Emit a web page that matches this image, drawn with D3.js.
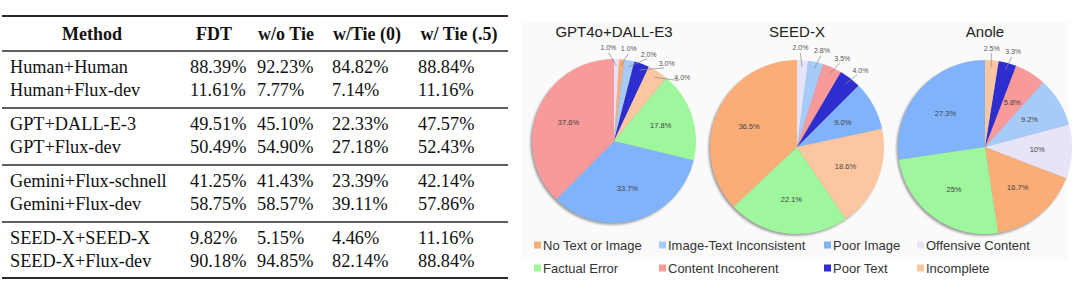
<!DOCTYPE html>
<html><head><meta charset="utf-8">
<script src="https://cdn.jsdelivr.net/npm/d3@7"></script>
<style>
html,body{margin:0;padding:0;background:#fff;}
svg{display:block;}
</style></head>
<body>
<svg id="chart" width="1080" height="305"></svg>
<script>
// ---------- Table data ----------
const tableHeaders = ["Method", "FDT", "w/o Tie", "w/Tie (0)", "w/ Tie (.5)"];
const methods = ["Human+Human", "Human+Flux-dev", "GPT+DALL-E-3", "GPT+Flux-dev",
  "Gemini+Flux-schnell", "Gemini+Flux-dev", "SEED-X+SEED-X", "SEED-X+Flux-dev"];
const fdt   = [88.39, 11.61, 49.51, 50.49, 41.25, 58.75, 9.82, 90.18];
const woTie = [92.23, 7.77, 45.10, 54.90, 41.43, 58.57, 5.15, 94.85];
const wTie0 = [84.82, 7.14, 22.33, 27.18, 23.39, 39.11, 4.46, 82.14];
const wTie5 = [88.84, 11.16, 47.57, 52.43, 42.14, 57.86, 11.16, 88.84];

// ---------- Pie data ----------
const errorTypes = ["No Text or Image", "Image-Text Inconsistent", "Poor Image", "Offensive Content",
  "Factual Error", "Content Incoherent", "Poor Text", "Incomplete"];
const pieTitles = ["GPT4o+DALL-E3", "SEED-X", "Anole"];
const gptShares   = [1.0, 2.0, 33.7, 1.0, 17.8, 37.6, 3.0, 4.0];
const seedShares  = [36.5, 2.8, 9.0, 2.0, 22.1, 3.5, 4.0, 18.6];
const anoleShares = [16.7, 9.2, 27.3, 10, 25, 5.8, 3.3, 2.5];
const labelFormats = [".1f", ".1f", ".1~f"];

// ---------- Styles ----------
const colors = ["#fbad77", "#a6cbf9", "#80b3fb", "#e7e4fa", "#9ef79c", "#f99a9a", "#2e2ed0", "#fbc6a0"];

const svg = d3.select("#chart");

// ================= TABLE =================
const serif = "'Liberation Serif','Times New Roman',serif";
const colX = [10, 190, 257, 332, 418];
const headerCX = [92, 214, 286, 367, 459];
const tableLeft = 2, tableRight = 508;
const topRule = 16, headRule = 51, groupH = 57;
const tg = svg.append("g");

const rules = [topRule, headRule, headRule + groupH, headRule + 2 * groupH, headRule + 3 * groupH, headRule + 4 * groupH - 1];
tg.selectAll("line.rule").data(rules).join("line")
  .attr("x1", tableLeft).attr("x2", tableRight)
  .attr("y1", d => d).attr("y2", d => d)
  .attr("stroke", "#2a2a2a")
  .attr("stroke-width", (d, i) => (i === 0 || i === rules.length - 1) ? 1.8 : 1.3);

tg.selectAll("text.hdr").data(tableHeaders).join("text")
  .attr("x", (d, i) => headerCX[i]).attr("y", topRule + 24)
  .attr("text-anchor", "middle")
  .attr("font-family", serif).attr("font-weight", "bold").attr("font-size", 18)
  .attr("fill", "#111").text(d => d);

const rowY = i => headRule + Math.floor(i / 2) * groupH + (i % 2 === 0 ? 22 : 45);
const fmtPct = v => v.toFixed(2) + "%";
const cols = [methods, fdt.map(fmtPct), woTie.map(fmtPct), wTie0.map(fmtPct), wTie5.map(fmtPct)];
cols.forEach((col, c) => {
  tg.selectAll("text.c" + c).data(col).join("text")
    .attr("class", "c" + c)
    .attr("x", colX[c]).attr("y", (d, i) => rowY(i))
    .attr("font-family", serif).attr("font-size", 18.3)
    .attr("fill", "#111").text(d => d);
});

// ================= PIES =================
const sans = "'Liberation Sans',Arial,sans-serif";
svg.append("rect").attr("x", 522).attr("y", 22).attr("width", 546).attr("height", 237).attr("fill", "#fafafa");

const defs = svg.append("defs");
defs.append("filter").attr("id", "blur").append("feGaussianBlur").attr("stdDeviation", 0.9);

const pieSets = [gptShares, seedShares, anoleShares];
const centers = [[614, 141], [797, 147], [985, 147]];
const radii = [82, 87, 87];

const pie = d3.pie()
  .value(d => d.v)
  .sort((a, b) => (a.v - b.v) || (b.i - a.i))
  .startAngle(0).endAngle(2 * Math.PI);

pieSets.forEach((shares, p) => {
  const [cx, cy] = centers[p];
  const r = radii[p];
  const g = svg.append("g").attr("transform", `translate(${cx},${cy})`);
  const items = shares.map((v, i) => ({ v, i, name: errorTypes[i] }));
  const arcs = pie(items);
  const total = d3.sum(shares);
  const fmt = d3.format(labelFormats[p]);

  // title
  svg.append("text").attr("x", cx).attr("y", 37).attr("text-anchor", "middle")
    .attr("font-family", sans).attr("font-size", 15).attr("fill", "#222").text(pieTitles[p]);

  // shadow
  g.append("circle").attr("cx", -1.6).attr("cy", 1.8).attr("r", r)
    .attr("fill", "#555").attr("opacity", 0.55).attr("filter", "url(#blur)");

  const arc = d3.arc().innerRadius(0).outerRadius(r);
  g.selectAll("path").data(arcs).join("path")
    .attr("d", arc).attr("fill", d => colors[d.data.i]);

  const pctText = d => fmt(d.data.v) + "%";
  const small = arcs.filter(d => d.data.v / total < 0.05).sort((a, b) => a.startAngle - b.startAngle);
  const big = arcs.filter(d => d.data.v / total >= 0.05);

  // inner labels
  const inner = d3.arc().innerRadius(r * 0.6).outerRadius(r * 0.6);
  g.selectAll("text.in").data(big).join("text")
    .attr("class", "in")
    .attr("transform", d => `translate(${inner.centroid(d)})`)
    .attr("text-anchor", "middle").attr("dy", "0.35em")
    .attr("font-family", sans).attr("font-size", 7.5).attr("fill", "#444")
    .text(pctText);

  // outer labels with spreading
  const ang = small.map(d => (d.startAngle + d.endAngle) / 2);
  const minSep = 0.22;
  for (let it = 0; it < 80; it++) {
    for (let k = 1; k < ang.length; k++) {
      const gap = ang[k] - ang[k - 1];
      if (gap < minSep) {
        const push = (minSep - gap) / 2;
        ang[k - 1] -= push * 0.6; ang[k] += push * 1.4;
      }
    }
  }
  const lr = r * 1.14;
  small.forEach((d, k) => {
    const a0 = (d.startAngle + d.endAngle) / 2;
    const x0 = Math.sin(a0) * r * 0.92, y0 = -Math.cos(a0) * r * 0.92;
    const x1 = Math.sin(ang[k]) * (lr - 5), y1 = -Math.cos(ang[k]) * (lr - 5);
    g.append("line").attr("x1", x0).attr("y1", y0).attr("x2", x1).attr("y2", y1)
      .attr("stroke", "#8a8a8a").attr("stroke-width", 0.7);
    g.append("text")
      .attr("x", Math.sin(ang[k]) * lr).attr("y", -Math.cos(ang[k]) * lr)
      .attr("text-anchor", "middle").attr("dy", "0.35em")
      .attr("font-family", sans).attr("font-size", 7).attr("fill", "#555")
      .text(pctText(d));
  });
});

// ================= LEGEND =================
const legX = [534, 659, 824, 917];
const legY = [245, 268];
const lg = svg.append("g");
const legOrder = [0, 1, 2, 3, 4, 5, 6, 7];
lg.selectAll("g.item").data(legOrder).join("g")
  .attr("transform", (d, k) => `translate(${legX[k % 4]},${legY[Math.floor(k / 4)]})`)
  .each(function (d) {
    const it = d3.select(this);
    it.append("rect").attr("x", 0).attr("y", -3.5).attr("width", 7).attr("height", 7).attr("fill", colors[d]);
    it.append("text").attr("x", 9).attr("y", 0).attr("dy", "0.35em")
      .attr("font-family", sans).attr("font-size", 13).attr("fill", "#333").text(errorTypes[d]);
  });
</script>
</body></html>
